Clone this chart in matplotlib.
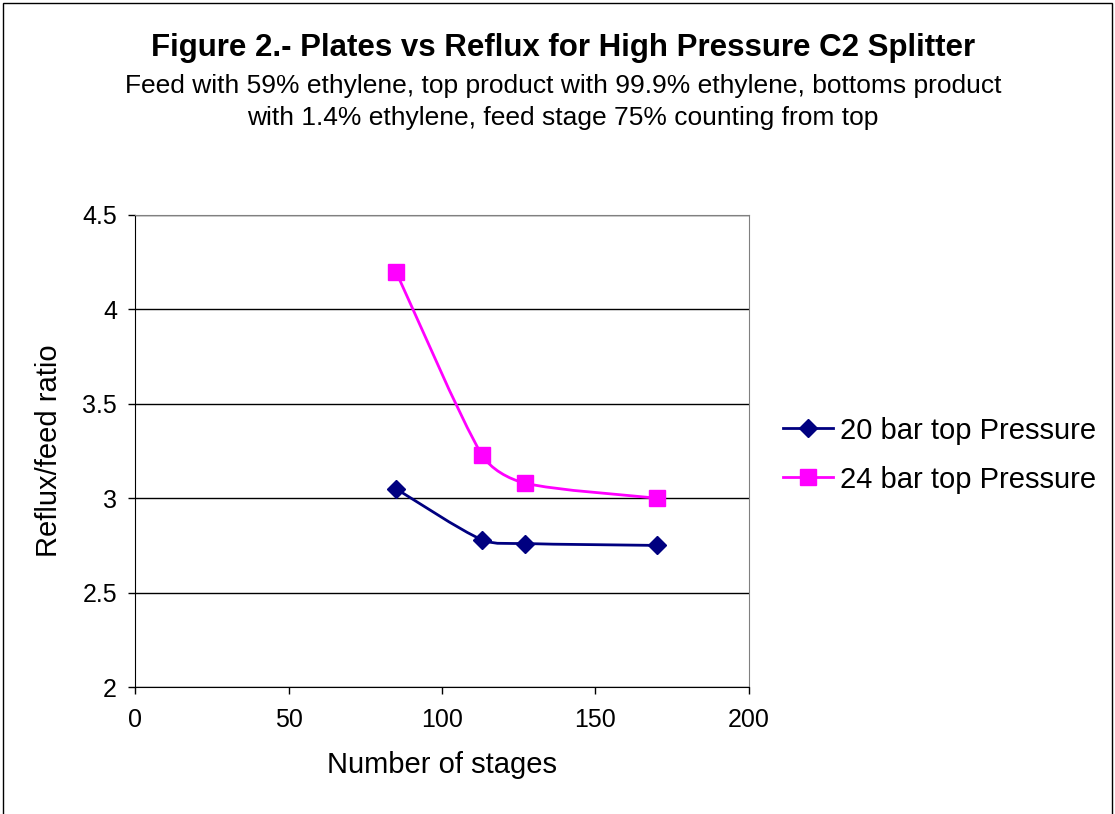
import numpy as np
import matplotlib.pyplot as plt
from matplotlib.path import Path
from matplotlib.patches import PathPatch, Rectangle
from matplotlib.lines import Line2D

plt.rcParams['font.family'] = ['Liberation Sans', 'DejaVu Sans']

# data
stages = [85, 113, 127, 170]
reflux_20bar = [3.05, 2.78, 2.76, 2.75]
reflux_24bar = [4.2, 3.23, 3.08, 3.0]
labels = ['20 bar top Pressure', '24 bar top Pressure']
colors = ['#000080', '#FF00FF']
markers = ['D', 's']


def smooth_path(x, y, sx, sy):
    # smoothed line: cubic bezier through the points; tangent handles are
    # Catmull-Rom (1/6) but shortened next to short segments (screen units)
    pts = np.column_stack([x, y]).astype(float)
    scr = pts * [sx, sy]
    n = len(pts)
    seg = np.hypot(*np.diff(scr, axis=0).T)
    tang = [pts[min(i + 1, n - 1)] - pts[max(i - 1, 0)] for i in range(n)]
    verts = [pts[0]]
    codes = [Path.MOVETO]
    for i in range(n - 1):
        f1 = f2 = 1 / 6
        if i > 0:
            f1 = min(f1, seg[i] / (seg[i] + seg[i - 1]) / 3)
        if i + 1 < n - 1:
            f2 = min(f2, seg[i] / (seg[i] + seg[i + 1]) / 3)
        c1 = pts[i] + tang[i] * f1
        c2 = pts[i + 1] - tang[i + 1] * f2
        verts += [c1, c2, pts[i + 1]]
        codes += [Path.CURVE4] * 3
    return Path(verts, codes)


fig = plt.figure(figsize=(11.15, 8.14), dpi=100)
fig.patches.append(Rectangle((0.003, -0.01), 0.994, 1.006, transform=fig.transFigure,
                             fill=False, edgecolor='black', lw=1))

ax = fig.add_axes([0.1211, 0.156, 0.5506, 0.5799])
ax.set_xlim(0, 200)
ax.set_ylim(2, 4.5)
ax.set_xticks([0, 50, 100, 150, 200])
ax.set_yticks([2, 2.5, 3, 3.5, 4, 4.5])
ax.set_yticklabels(['2', '2.5', '3', '3.5', '4', '4.5'])
ax.yaxis.grid(True, color='black', lw=1)
ax.set_axisbelow(True)
ax.tick_params(labelsize=18, length=5, width=1, direction='out', color='black')
ax.tick_params(axis='x', pad=10)
ax.tick_params(axis='y', pad=8)
ax.spines['top'].set_color('#808080')
ax.spines['right'].set_color('#808080')

sx = 614 / 200
sy = 472 / 2.5
handles = []
for ys, c, m, lab in zip([reflux_20bar, reflux_24bar], colors, markers, labels):
    ax.add_patch(PathPatch(smooth_path(stages, ys, sx, sy), fill=False, edgecolor=c,
                           lw=2, zorder=3))
    ms = 9 if m == 'D' else 11
    ax.plot(stages, ys, linestyle='none', marker=m, color=c, markersize=ms, zorder=4)
    handles.append(Line2D([], [], color=c, lw=2, marker=m, markersize=ms))

ax.set_xlabel('Number of stages', fontsize=21, labelpad=14)
ax.set_ylabel('Reflux/feed ratio', fontsize=21, labelpad=14)

fig.legend(handles, labels, loc='center left', bbox_to_anchor=(0.679, 0.441),
           frameon=False, fontsize=21, handlelength=1.7, handletextpad=0.25,
           labelspacing=0.72)

fig.text(0.505, 0.941, 'Figure 2.- Plates vs Reflux for High Pressure C2 Splitter',
         ha='center', va='center', fontsize=22.5, fontweight='bold')
fig.text(0.505, 0.875, 'Feed with 59% ethylene, top product with 99.9% ethylene, bottoms product\n'
         'with 1.4% ethylene, feed stage 75% counting from top',
         ha='center', va='center', fontsize=19, linespacing=1.4)

fig.savefig('out.png', dpi=100)
